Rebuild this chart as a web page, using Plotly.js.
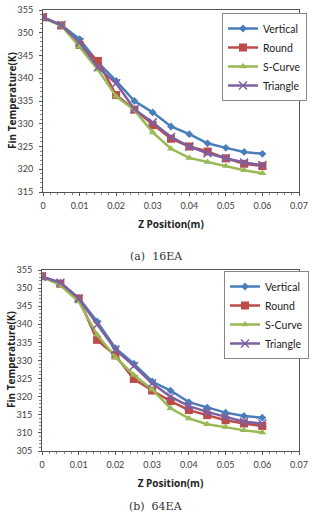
<!DOCTYPE html>
<html>
<head>
<meta charset="utf-8">
<script src="https://cdn.plot.ly/plotly-3.0.1.min.js"></script>
<style>html,body{margin:0;padding:0;background:#fff;}#chart{width:312px;height:514px;}</style>
</head>
<body>
<div id="chart"></div>
<script>
var zPos = [0, 0.005, 0.01, 0.015, 0.02, 0.025, 0.03, 0.035, 0.04, 0.045, 0.05, 0.055, 0.06];
var seriesNames = ["Vertical", "Round", "S-Curve", "Triangle"];

// (a) 16EA
var vertical16 = [353.4, 351.7, 348.6, 343.5, 339.4, 335.0, 332.5, 329.4, 327.7, 325.7, 324.7, 323.8, 323.4];
var round16    = [353.4, 351.6, 347.3, 343.8, 336.3, 333.1, 329.7, 326.7, 325.0, 323.9, 322.4, 321.2, 320.7];
var scurve16   = [353.2, 351.6, 346.9, 341.9, 336.0, 333.0, 328.1, 324.5, 322.5, 321.6, 320.7, 319.8, 319.1];
var triangle16 = [353.4, 351.7, 347.9, 342.4, 338.9, 333.2, 330.3, 327.1, 325.0, 323.5, 322.4, 321.5, 320.9];

// (b) 64EA
var vertical64 = [353.1, 351.5, 347.3, 340.8, 333.4, 329.1, 324.2, 321.7, 318.5, 317.0, 315.6, 314.7, 314.2];
var round64    = [353.3, 351.2, 347.1, 335.7, 331.4, 324.9, 321.7, 318.8, 316.3, 314.9, 313.5, 312.6, 311.9];
var scurve64   = [353.1, 350.8, 346.3, 337.1, 330.9, 326.0, 322.0, 316.8, 314.0, 312.4, 311.6, 310.7, 310.1];
var triangle64 = [353.1, 351.5, 347.1, 339.9, 333.0, 328.5, 323.7, 320.0, 317.4, 315.8, 314.4, 313.1, 312.6];

var xTickVals = [0, 0.01, 0.02, 0.03, 0.04, 0.05, 0.06, 0.07];
var xTickText = ["0", "0.01", "0.02", "0.03", "0.04", "0.05", "0.06", "0.07"];
var captions = ["(a)  16EA", "(b)  64EA"];
var xTitle = "Z Position(m)";
var yTitle = "Fin Temperature(K)";

var colors = ["#4A7EBB", "#BE4B48", "#98B954", "#7D60A0"];
var symbols = ["diamond", "square", "triangle-up", "x-thin"];
var sizes = [6, 8, 7, 8];

function mk(name, y, i, xa, ya, lg) {
  var m = {symbol: symbols[i], size: sizes[i], color: colors[i]};
  if (symbols[i] === "x-thin") { m.line = {color: colors[i], width: 1.5}; }
  return {
    x: zPos, y: y, name: name, type: "scatter", mode: "lines+markers",
    xaxis: xa, yaxis: ya, legend: lg,
    line: {color: colors[i], width: 2.5},
    marker: m
  };
}

var data = [];
var seriesA = [vertical16, round16, scurve16, triangle16];
var seriesB = [vertical64, round64, scurve64, triangle64];
for (var i = 0; i < 4; i++) data.push(mk(seriesNames[i], seriesA[i], i, "x", "y", "legend"));
for (var i = 0; i < 4; i++) data.push(mk(seriesNames[i], seriesB[i], i, "x2", "y2", "legend2"));

var tickFont = {family: "Lato, 'Open Sans', sans-serif", size: 9, color: "#404040"};
var titleFont = {family: "'Open Sans', Lato, sans-serif", size: 10, color: "#222", weight: "bold"};

function xax(dom, anchor) {
  return {
    domain: dom, anchor: anchor, range: [0, 0.07], tickvals: xTickVals, ticktext: xTickText,
    showgrid: false, zeroline: false, showline: true, mirror: true, linecolor: "#555", linewidth: 1,
    ticks: "outside", ticklen: 3, tickcolor: "#555", tickfont: tickFont, ticklabelstandoff: 2,
    minor: {dtick: 0.002, ticks: "outside", ticklen: 2, tickcolor: "#888"},
    title: {text: "<b>" + xTitle + "</b>", font: titleFont, standoff: 11}
  };
}
function yax(dom, anchor, rng, dtick) {
  return {
    domain: dom, anchor: anchor, range: rng, dtick: dtick, tick0: 0,
    showgrid: false, zeroline: false, showline: true, mirror: true, linecolor: "#555", linewidth: 1,
    ticks: "outside", ticklen: 3, tickcolor: "#555", tickfont: tickFont, ticklabelstandoff: 4,
    minor: {dtick: 1, ticks: "outside", ticklen: 2, tickcolor: "#888"}
  };
}

var legFont = {family: "Lato, 'Open Sans', sans-serif", size: 10.5, color: "#222"};
var serif = {family: "'DejaVu Serif', 'Liberation Serif', serif", size: 11, color: "#333"};
var layout = {
  width: 312, height: 514,
  margin: {l: 0, r: 0, t: 0, b: 0},
  paper_bgcolor: "#fff", plot_bgcolor: "#fff",
  showlegend: true,
  xaxis: xax([43/312, 299/312], "y"),
  yaxis: yax([1 - 192/514, 1 - 10/514], "x", [315, 355], 5),
  xaxis2: xax([42/312, 299/312], "y2"),
  yaxis2: yax([1 - 451/514, 1 - 270/514], "x2", [305, 355], 5),
  legend: {x: 222/312, y: 1 - 13/514, xanchor: "left", yanchor: "top", xref: "paper", yref: "paper",
    bgcolor: "#fff", bordercolor: "#888", borderwidth: 1, font: legFont, itemwidth: 30, tracegroupgap: 0},
  legend2: {x: 224/312, y: 1 - 271/514, xanchor: "left", yanchor: "top", xref: "paper", yref: "paper",
    bgcolor: "#fff", bordercolor: "#888", borderwidth: 1, font: legFont, itemwidth: 30, tracegroupgap: 0},
  annotations: [
    {text: "<b>" + yTitle + "</b>", xref: "paper", yref: "paper", x: 12/312, y: 1 - 101/514, textangle: -90,
      xanchor: "center", yanchor: "middle", showarrow: false, font: titleFont},
    {text: "<b>" + yTitle + "</b>", xref: "paper", yref: "paper", x: 11/312, y: 1 - 360/514, textangle: -90,
      xanchor: "center", yanchor: "middle", showarrow: false, font: titleFont},
    {text: captions[0], xref: "paper", yref: "paper", x: 156/312, y: 1 - 256/514, xanchor: "center", yanchor: "middle",
      showarrow: false, font: serif},
    {text: captions[1], xref: "paper", yref: "paper", x: 156/312, y: 1 - 506/514, xanchor: "center", yanchor: "middle",
      showarrow: false, font: serif}
  ]
};

Plotly.newPlot("chart", data, layout, {displayModeBar: false, staticPlot: true});
</script>
</body>
</html>
